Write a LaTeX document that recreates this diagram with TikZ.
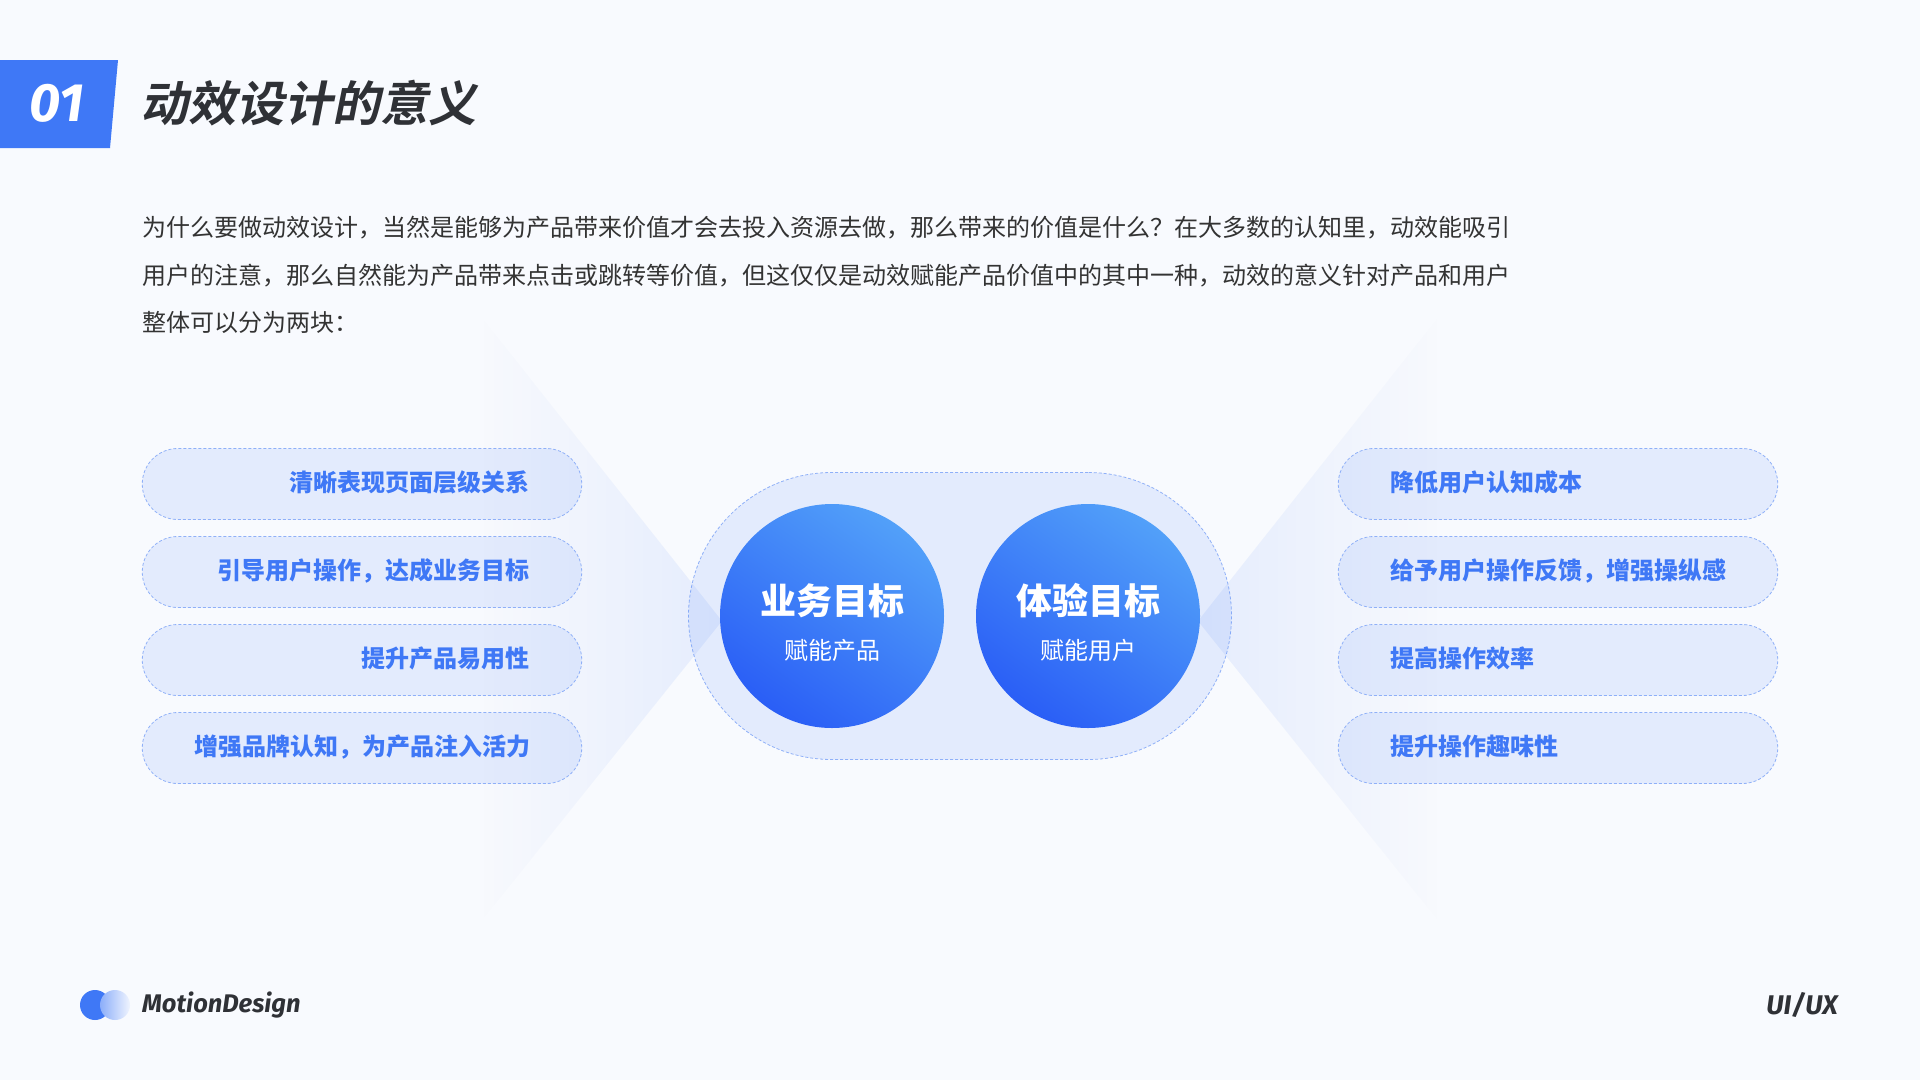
\documentclass[tikz,border=0pt]{standalone}
\usepackage{fontspec}
\setmainfont{Noto Sans CJK SC}
\newfontfamily\titlefont[FakeSlant=0.2]{Noto Sans CJK SC Bold}
\newfontfamily\brandfont[Scale=1]{Fira Sans}
\usetikzlibrary{positioning, fadings}
\definecolor{motionblue}{HTML}{3F78F6}
\definecolor{motiondark}{HTML}{2F3136}
\definecolor{motionbg}{HTML}{F8FAFE}
\definecolor{motionline}{HTML}{8FB0F8}
\definecolor{motiontext}{HTML}{333333}
\definecolor{goaldeep}{HTML}{2A5EF6}
\definecolor{goallight}{HTML}{52A0F9}
\tikzfading[name=fanleft, left color=transparent!100, right color=transparent!0]
\tikzfading[name=fanright, left color=transparent!0, right color=transparent!100]

\begin{document}
\begin{tikzpicture}[
  x=1pt, y=-1pt,
  pillbox/.style={
    rectangle, rounded corners=35.5pt, minimum width=439.5pt, minimum height=71pt,
    draw=motionline, dashed, dash pattern=on 3pt off 2pt, line width=0.8pt,
    fill=motionblue, fill opacity=0.11, text opacity=1, draw opacity=1,
    inner xsep=52pt, inner ysep=0pt, text width=335.5pt,
    text height=21pt, text depth=5.4pt,
    font=\fontsize{24pt}{28pt}\selectfont\bfseries, text=motionblue
  },
  leftpill/.style={pillbox, align=right},
  rightpill/.style={pillbox, align=left},
  goal/.style={
    circle, minimum size=224pt, inner sep=0pt,
    bottom color=goaldeep, top color=goallight, shading angle=-35
  },
  goaltitle/.style={font=\fontsize{36pt}{40pt}\selectfont\bfseries, text=white, inner sep=0pt},
  goalsub/.style={font=\fontsize{24pt}{28pt}\selectfont, text=white, inner sep=0pt},
  fan/.style={fill=motionblue, fill opacity=0.1, draw=none},
  brand/.style={font=\fontsize{#1}{30pt}\brandfont\bfseries\itshape, text=motiondark, inner sep=0pt}
]
  \useasboundingbox (0,0) rectangle (1920,1080);
  \fill[motionbg] (0,0) rectangle (1920,1080);

  % header
  \fill[motionblue] (0,60) -- (118,60) -- (110,148) -- (0,148) -- cycle;
  \node[font=\fontsize{54pt}{58pt}\brandfont\bfseries\itshape, text=white, inner sep=0pt] (secnum) at (57,103) {01};
  \node[anchor=west, font=\fontsize{48pt}{52pt}\titlefont, text=motiondark, inner sep=0pt] (title) at (140,103) {动效设计的意义};
  \node[anchor=north west, align=left, inner sep=0pt, text=motiontext, font=\fontsize{24pt}{47.7pt}\selectfont] (intro) at (142,216)
    {为什么要做动效设计，当然是能够为产品带来价值才会去投入资源去做，那么带来的价值是什么？在大多数的认知里，动效能吸引\\
     用户的注意，那么自然能为产品带来点击或跳转等价值，但这仅仅是动效赋能产品价值中的其中一种，动效的意义针对产品和用户\\
     整体可以分为两块：};

  % center
  \node[pillbox, rounded corners=143.5pt, minimum width=543pt, minimum height=287pt, text width=0pt, inner xsep=0pt] (hub) at (960,616) {};
  \fill[fan, path fading=fanleft] (722,621) -- (480,315) -- (480,923) -- cycle;
  \fill[fan, path fading=fanright] (1198,621) -- (1440,315) -- (1440,923) -- cycle;
  \node[goal] (biz) at (832,616) {};
  \node[goal] (ux) at (1088,616) {};
  \node[goaltitle] (biztitle) at (832,601) {业务目标};
  \node[goalsub] (bizsub) at (832,650) {赋能产品};
  \node[goaltitle] (uxtitle) at (1088,601) {体验目标};
  \node[goalsub] (uxsub) at (1088,650) {赋能用户};

  % left items
  \node[leftpill] (l1) at (362,484) {清晰表现页面层级关系};
  \node[leftpill] (l2) at (362,572) {引导用户操作，达成业务目标};
  \node[leftpill] (l3) at (362,660) {提升产品易用性};
  \node[leftpill] (l4) at (362,748) {增强品牌认知，为产品注入活力};

  % right items
  \node[rightpill] (r1) at (1558,484) {降低用户认知成本};
  \node[rightpill] (r2) at (1558,572) {给予用户操作反馈，增强操纵感};
  \node[rightpill] (r3) at (1558,660) {提高操作效率};
  \node[rightpill] (r4) at (1558,748) {提升操作趣味性};

  % footer
  \fill[motionblue] (95,1005) circle (15);
  \shade[left color=motionblue!60!white, right color=motionblue!8!white] (115,1005) circle (15);
  \node[brand=25.5pt, anchor=west] (logo) at (142,1005) {MotionDesign};
  \node[brand=27pt, anchor=east] (tag) at (1838,1005) {UI/UX};
\end{tikzpicture}
\end{document}
